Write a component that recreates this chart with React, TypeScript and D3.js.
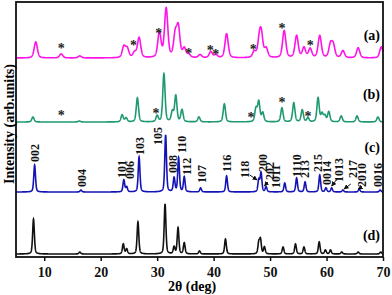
import * as d3 from "d3";
import { useEffect, useRef } from "react";

// peaks: [2theta, height in arb. units]
const peaksA: [number, number][] = [
  [8.5, 16], [13.0, 4], [16.3, 2], [24.1, 11], [24.7, 9], [26.0, 5], [26.8, 20],
  [30.4, 25], [31.6, 49], [33.2, 22], [33.75, 29], [34.8, 9], [35.6, 3], [37.6, 3],
  [39.5, 6], [40.4, 3], [42.3, 24], [47.2, 6], [48.1, 16], [48.45, 21], [49.3, 9],
  [52.5, 27], [54.7, 22], [56.0, 10], [57.1, 9], [58.8, 22], [60.7, 13], [61.2, 12],
  [62.9, 7], [65.6, 10], [69.7, 11],
];
const peaksB: [number, number][] = [
  [8.0, 5], [16.2, 1], [23.8, 7], [24.5, 4], [26.5, 24], [30.0, 6], [31.2, 48],
  [32.7, 10], [33.3, 26], [34.4, 12], [37.4, 5], [41.9, 18], [47.5, 13], [48.0, 20],
  [48.7, 9], [52.1, 14], [54.2, 19], [55.7, 12], [56.7, 4], [58.5, 24], [59.2, 8],
  [59.7, 6], [60.4, 10], [62.6, 6], [65.4, 6], [69.1, 5],
];
const peaksC: [number, number][] = [
  [8.3, 27], [16.5, 2], [24.1, 12], [24.6, 5], [26.8, 35], [31.5, 57], [33.0, 14],
  [33.8, 34], [34.8, 15], [37.7, 4], [42.3, 16], [48.0, 12], [48.4, 19], [49.3, 5],
  [52.6, 9], [54.7, 14], [56.2, 10], [58.8, 17], [59.9, 4], [60.9, 4], [62.9, 2],
  [65.8, 3], [69.5, 2],
];
const peaksD: [number, number][] = [
  [8.1, 35], [16.3, 2], [24.0, 10], [24.6, 5], [26.6, 32], [31.4, 50], [33.0, 7],
  [33.7, 26], [34.8, 11], [37.5, 3], [42.1, 15], [48.0, 11], [48.3, 14], [49.0, 7],
  [52.3, 7], [54.5, 10], [56.0, 7], [58.7, 12], [59.8, 4], [60.7, 4], [62.7, 2],
  [65.6, 2], [69.6, 2],
];

// impurity stars: [2theta, height above baseline]
const starsA: [number, number][] = [
  [13.0, 11], [25.8, 14], [30.3, 26], [35.6, 6], [39.4, 9], [40.4, 5], [47.0, 10],
  [52.1, 31], [57.1, 14],
];
const starsB: [number, number][] = [
  [13.0, 8], [29.8, 10], [46.6, 6], [52.1, 21], [56.7, 7],
];

// hkl labels on (c): [label, 2theta, bottom height above baseline]
const hklLabels: [string, number, number][] = [
  ["002", 8.37, 30], ["004", 16.7, 5], ["101", 23.8, 14], ["006", 25.2, 13],
  ["103", 27.0, 37], ["105", 30.1, 47], ["008", 32.8, 19], ["110", 34.4, 39],
  ["112", 35.3, 17], ["107", 37.9, 9], ["116", 42.4, 20], ["118", 45.6, 14],
  ["200", 48.75, 20], ["202", 50.0, 12], ["1011", 51.05, 4], ["1110", 54.8, 15],
  ["213", 56.2, 14], ["215", 58.5, 20], ["0014", 60.1, 7], ["1013", 62.2, 10],
  ["217", 64.7, 14], ["2010", 66.3, 5], ["0016", 69.1, 5],
];
// arrows from label to peak: [from 2theta, from h, to 2theta, to h]
const arrows: [number, number, number, number][] = [
  [46.4, 17, 47.7, 12], [49.6, 10, 49.0, 6], [62.0, 14, 60.9, 6],
  [64.3, 8, 63.1, 3], [65.9, 4, 65.6, 3],
];

const series = [
  { name: "(a)", peaks: peaksA, offset: 199, color: "#ff14e6", hw: 0.34, stars: starsA, labelY: 40 },
  { name: "(b)", peaks: peaksB, offset: 135, color: "#1f9a6e", hw: 0.24, stars: starsB, labelY: 99 },
  { name: "(c)", peaks: peaksC, offset: 65, color: "#1414b4", hw: 0.18, stars: [] as [number, number][], labelY: 152 },
  { name: "(d)", peaks: peaksD, offset: 3, color: "#111111", hw: 0.18, stars: [] as [number, number][], labelY: 240 },
];
const xTicks = [10, 20, 30, 40, 50, 60, 70];

function profile(peaks: [number, number][], hw: number, t: number) {
  let s = 0;
  for (const [c, h] of peaks) {
    const d = (t - c) / hw;
    const lor = 1 / (1 + d * d);
    const gau = Math.exp(-Math.LN2 * d * d);
    s += h * (0.6 * gau + 0.4 * lor);
  }
  return s;
}

export default function App() {
  const ref = useRef<SVGSVGElement>(null);

  useEffect(() => {
    const width = 392;
    const height = 295;
    const left = 16, right = 383, top = 2, bottom = 257;
    const svg = d3.select(ref.current!);
    svg.selectAll("*").remove();

    const x = d3.scaleLinear().domain([5, 70]).range([left, right]);
    const y = d3.scaleLinear().domain([0, 255]).range([bottom, top]);
    const font = "'Liberation Serif', 'Times New Roman', serif";

    const grid = d3.range(5, 70.001, 0.02);

    series.forEach((s) => {
      const line = d3.line<number>()
        .x(t => x(t))
        .y(t => y(s.offset + profile(s.peaks, s.hw, t)));
      svg.append("path")
        .datum(grid)
        .attr("fill", "none")
        .attr("stroke", s.color)
        .attr("stroke-width", 1.6)
        .attr("d", line);

      svg.selectAll(null)
        .data(s.stars)
        .enter()
        .append("text")
        .attr("x", d => x(d[0]))
        .attr("y", d => y(s.offset + d[1]) + 6)
        .attr("text-anchor", "middle")
        .attr("font-family", font)
        .attr("font-weight", "bold")
        .attr("font-size", 14)
        .attr("fill", "#222")
        .text("*");

      svg.append("text")
        .attr("x", 380)
        .attr("y", s.labelY)
        .attr("text-anchor", "end")
        .attr("font-family", font)
        .attr("font-weight", "bold")
        .attr("font-size", 14)
        .text(s.name);
    });

    // hkl labels
    const cOff = series[2].offset;
    svg.selectAll(null)
      .data(hklLabels)
      .enter()
      .append("text")
      .attr("transform", d => `translate(${x(d[1]) + 4},${y(cOff + d[2])}) rotate(-90)`)
      .attr("font-family", font)
      .attr("font-weight", "bold")
      .attr("font-size", 12)
      .attr("fill", "#111")
      .text(d => d[0]);

    svg.append("defs").append("marker")
      .attr("id", "arr")
      .attr("viewBox", "0 0 10 10")
      .attr("refX", 9).attr("refY", 5)
      .attr("markerWidth", 5).attr("markerHeight", 5)
      .attr("orient", "auto")
      .append("path").attr("d", "M0,0L10,5L0,10z").attr("fill", "#111");

    svg.selectAll(null)
      .data(arrows)
      .enter()
      .append("line")
      .attr("x1", d => x(d[0])).attr("y1", d => y(cOff + d[1]))
      .attr("x2", d => x(d[2])).attr("y2", d => y(cOff + d[3]))
      .attr("stroke", "#111").attr("stroke-width", 1)
      .attr("marker-end", "url(#arr)");

    // frame
    svg.append("rect")
      .attr("x", left).attr("y", top)
      .attr("width", right - left).attr("height", bottom - top)
      .attr("fill", "none").attr("stroke", "#111").attr("stroke-width", 1.8);

    // x axis
    const ax = svg.append("g")
      .attr("transform", `translate(0,${bottom})`)
      .call(d3.axisBottom(x).tickValues(xTicks).tickSize(4).tickPadding(6).tickFormat(d3.format("d")));
    ax.select(".domain").remove();
    ax.selectAll("line").attr("stroke", "#111").attr("stroke-width", 1.5);
    ax.selectAll("text")
      .attr("font-family", font)
      .attr("font-weight", "bold")
      .attr("font-size", 14)
      .attr("fill", "#111");

    svg.append("text")
      .attr("x", 192).attr("y", 291)
      .attr("text-anchor", "middle")
      .attr("font-family", font)
      .attr("font-weight", "bold")
      .attr("font-size", 14)
      .text("2θ (deg)");

    svg.append("text")
      .attr("transform", `translate(14,124) rotate(-90)`)
      .attr("text-anchor", "middle")
      .attr("font-family", font)
      .attr("font-weight", "bold")
      .attr("font-size", 14)
      .text("Intensity (arb.units)");

    svg.attr("width", width).attr("height", height);
  }, []);

  return (
    <svg ref={ref} width={392} height={295} style={{ position: "absolute", left: 0, top: 0, background: "#fff" }} />
  );
}
